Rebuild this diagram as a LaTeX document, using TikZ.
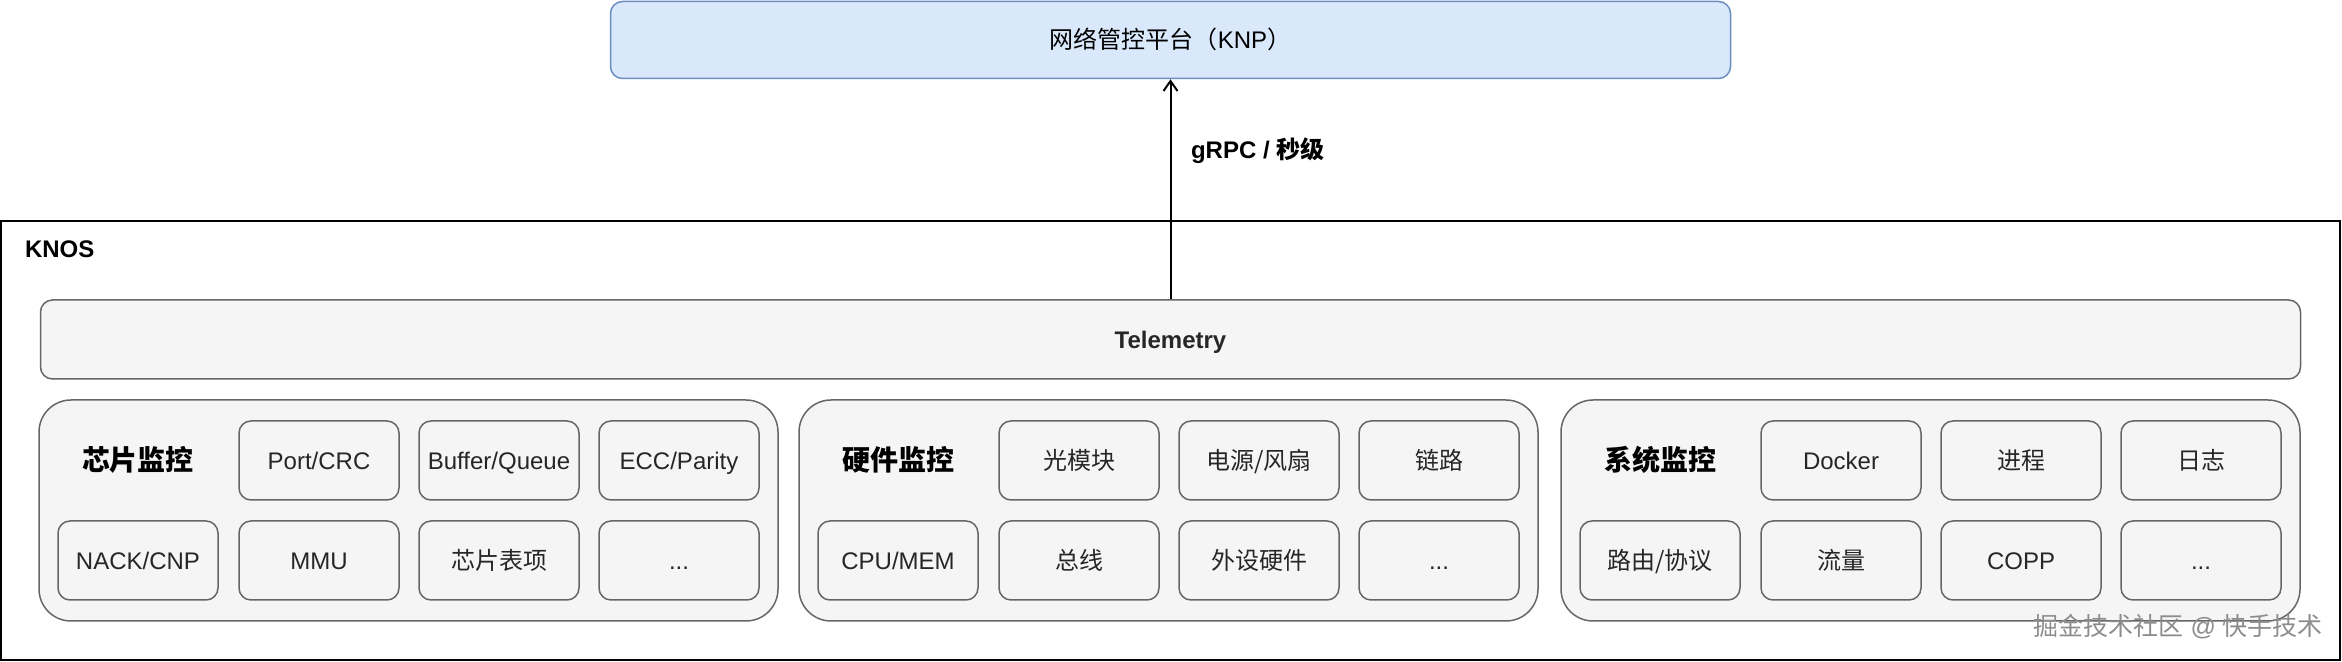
\documentclass[tikz,border=0pt]{standalone}
\usepackage{fontspec}
\setmainfont{Liberation Sans}
\newfontfamily\cjk{Noto Sans CJK SC}
\usetikzlibrary{arrows.meta}
\definecolor{boxfill}{HTML}{F5F5F5}
\definecolor{boxline}{HTML}{666666}
\definecolor{knpfill}{HTML}{DAE8FC}
\definecolor{knpline}{HTML}{6C8EBF}
\tikzset{
  item/.style={draw=boxline, fill=boxfill, line width=0.75pt, rounded corners=6pt,
    minimum width=80pt, minimum height=39.5pt, inner sep=1pt,
    text height=8.6pt, text depth=0pt,
    font=\fontsize{12}{14}\selectfont, text=black!85},
  group/.style={draw=boxline, fill=boxfill, line width=0.75pt, rounded corners=16pt,
    minimum width=369.5pt, minimum height=110.5pt},
  title/.style={font=\fontsize{14}{16}\selectfont\bfseries, text height=10pt, text depth=0pt},
  bold/.style={font=\fontsize{12}{14}\selectfont\bfseries}
}

\begin{document}
\begin{tikzpicture}[x=0.5pt, y=-0.5pt, >={Straight Barb[length=5pt, width=7pt]}]
    \useasboundingbox (0,0) rectangle (2342,662);
    % Nền tảng KNP
    \node[draw=knpline, fill=knpfill, line width=0.75pt, rounded corners=6pt,
      minimum width=560pt, minimum height=38.5pt, font=\fontsize{12}{14}\selectfont,
      text height=8.6pt, text depth=0pt]
      (knp) at (1170.5,40) {{\cjk 网络管控平台（}KNP{\cjk ）}};
    % Khung KNOS
    \node[draw, line width=1pt, minimum width=1169.5pt, minimum height=219.5pt]
      (knos) at (1170.5,440.5) {};
    \node[bold, anchor=west] (knosT) at (18,249) {KNOS};
    % Telemetry
    \node[item, minimum width=1130pt, bold] (tele) at (1170.5,339.5) {Telemetry};
    \draw[->, line width=1pt] (tele.north) -- (knp.south);
    \node[bold, anchor=west] (grpc) at (1184,151) {gRPC / {\cjk\bfseries 秒级}};
    % Các nhóm giám sát
    \node[group] (g1) at (408.5,510.5) {};
    \node[group] (g2) at (1168.5,510.5) {};
    \node[group] (g3) at (1930.5,510.5) {};
    % Nhóm 1: chip
    \node[title] (chipT) at (138,460.5) {\cjk 芯片监控};
    \node[item] (port) at (319,460.5) {Port/CRC};
    \node[item] (buf) at (499,460.5) {Buffer/Queue};
    \node[item] (ecc) at (679,460.5) {ECC/Parity};
    \node[item] (nack) at (138,560.5) {NACK/CNP};
    \node[item] (mmu) at (319,560.5) {MMU};
    \node[item] (tbl) at (499,560.5) {\cjk 芯片表项};
    \node[item] (chipX) at (679,560.5) {...};
    % Nhóm 2: phần cứng
    \node[title] (hwT) at (898,460.5) {\cjk 硬件监控};
    \node[item] (optic) at (1079,460.5) {\cjk 光模块};
    \node[item] (psu) at (1259,460.5) {\cjk 电源/风扇};
    \node[item] (link) at (1439,460.5) {\cjk 链路};
    \node[item] (cpu) at (898,560.5) {CPU/MEM};
    \node[item] (bus) at (1079,560.5) {\cjk 总线};
    \node[item] (periph) at (1259,560.5) {\cjk 外设硬件};
    \node[item] (hwX) at (1439,560.5) {...};
    % Nhóm 3: hệ thống
    \node[title] (sysT) at (1660,460.5) {\cjk 系统监控};
    \node[item] (docker) at (1841,460.5) {Docker};
    \node[item] (proc) at (2021,460.5) {\cjk 进程};
    \node[item] (log) at (2201,460.5) {\cjk 日志};
    \node[item] (route) at (1660,560.5) {\cjk 路由/协议};
    \node[item] (flow) at (1841,560.5) {\cjk 流量};
    \node[item] (copp) at (2021,560.5) {COPP};
    \node[item] (sysX) at (2201,560.5) {...};
    % Dấu nước
    \node[anchor=east, text=black!45, font=\fontsize{12.5}{14}\selectfont]
      (mark) at (2330,627) {{\cjk 掘金技术社区} @ {\cjk 快手技术}};
\end{tikzpicture}
\end{document}
